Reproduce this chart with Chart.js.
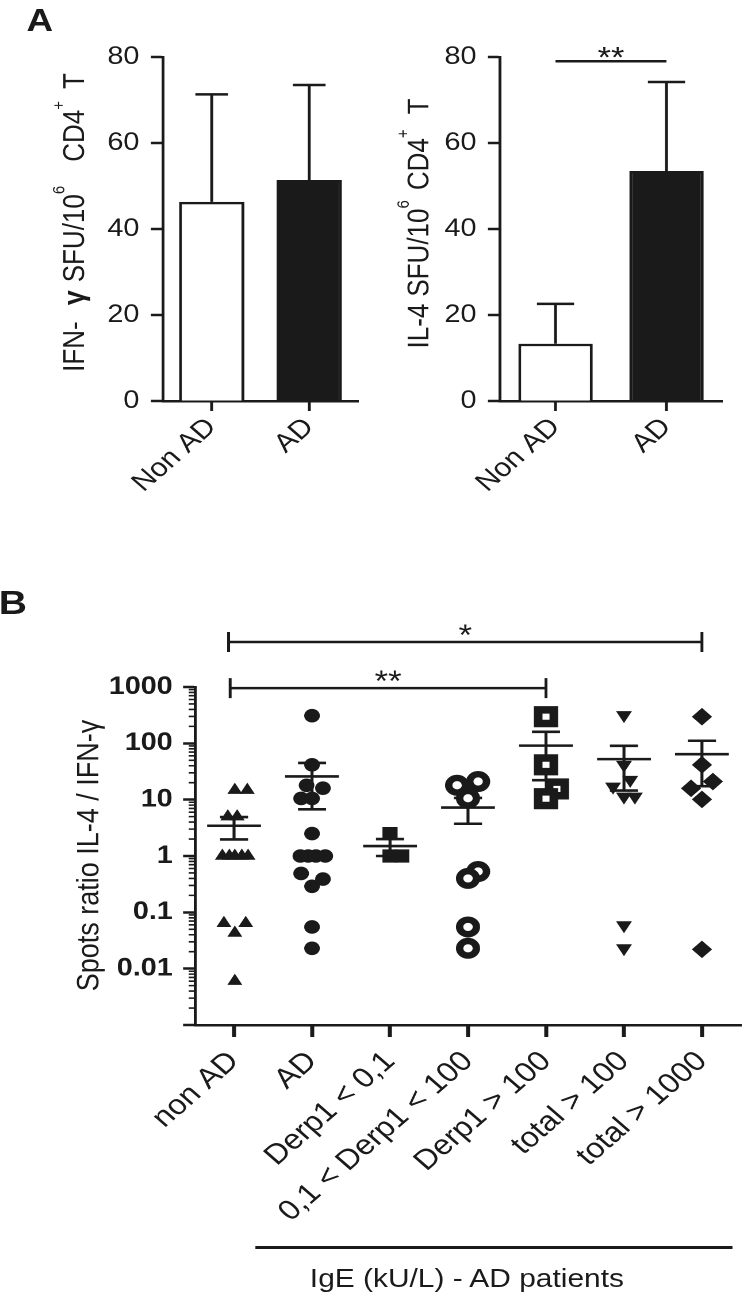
<!DOCTYPE html>
<html>
<head>
<meta charset="utf-8">
<script src="https://cdn.jsdelivr.net/npm/chart.js@4.4.0/dist/chart.umd.min.js"></script>
<style>
  body { margin: 0; background: #fff; width: 745px; height: 1295px; overflow: hidden; }
  /* the original figure is a little wider than tall, so the whole thing is stretched */
  #fig { position: absolute; left: 0; top: 0; width: 648px; height: 1295px; transform: scaleX(1.15); transform-origin: 0 0; font-family: "Liberation Sans", Arial, sans-serif; color: #1a1a1a; }
  #fig canvas { position: absolute; }
  .panel { position: absolute; font-weight: bold; line-height: 1; }
  #igeLine { position: absolute; left: 222px; top: 1246px; width: 415px; height: 2.5px; background: #1a1a1a; }
  #igeText { position: absolute; left: 206px; top: 1265px; width: 400px; text-align: center; font-size: 26px; line-height: 26px; }
</style>
</head>
<body>
<div id="fig">
  <div class="panel" style="left:23px;top:4px;font-size:32px">A</div>
  <div class="panel" style="left:-1px;top:585px;font-size:34px">B</div>
  <canvas id="ifnChart" width="330" height="560" style="left:0;top:0"></canvas>
  <canvas id="il4Chart" width="318" height="560" style="left:330px;top:0"></canvas>
  <canvas id="ratioChart" width="648" height="695" style="left:0;top:600px"></canvas>
  <div id="igeLine"></div>
  <div id="igeText">IgE (kU/L) - AD patients</div>
</div>
<script>
// ---- panel A data ----
const groupsA = ['Non AD', 'AD'];
const ifnMean = [46.3, 51.4];
const ifnErr = [25.0, 22.1];
const il4Mean = [13.3, 53.5];
const il4Err = [9.3, 20.7];
const ticksA = [0, 20, 40, 60, 80];
const il4SigLevel = 79;

// ---- panel B data (spots ratio IL-4 / IFN-g) ----
const groupsB = ['non AD', 'AD', 'Derp1 < 0,1', '0,1 < Derp1 < 100', 'Derp1 > 100', 'total > 100', 'total > 1000'];
const ratioNonAD = [14.8, 14.8, 5.0, 5.0, 1, 1, 1, 1, 1, 0.064, 0.064, 0.043, 0.006];
const ratioAD = [309, 41.5, 18, 16, 10.5, 10.5, 2.5, 1, 1, 1, 1, 0.49, 0.39, 0.29, 0.055, 0.023];
const ratioDerpLow = [2.5, 1, 1];
const ratioDerpMid = [21, 18, 10.6, 0.53, 0.40, 0.055, 0.023];
const ratioDerpHigh = [297, 41.5, 15.5, 10.4];
const ratioTotal100 = [316, 41.5, 22.4, 17, 11.3, 11.3, 0.059, 0.023];
const ratioTotal1000 = [297, 41.5, 21, 15.9, 10.1, 0.022];
const logTicks = [0.001, 0.01, 0.1, 1, 10, 100, 1000];
const logTickLabels = ['', '0.01', '0.1', '1', '10', '100', '1000'];

// horizontal spread of overlapping points (in category widths)
const jitterNonAD = [0.01, 0.17, -0.08, 0.04, -0.15, -0.06, 0.01, 0.10, 0.18, -0.13, 0.15, 0.01, 0.01];
const jitterAD = [0, 0, -0.07, 0.14, -0.14, 0, 0, -0.15, -0.05, 0.05, 0.17, -0.14, 0.14, 0, 0, 0];
const jitterDerpLow = [0, 0, 0.15];
const jitterDerpMid = [0.13, -0.14, 0, 0.13, 0, 0, 0];
const jitterDerpHigh = [0, 0, 0.14, 0];
const jitterTotal100 = [0, 0, 0.08, -0.14, 0, 0.14, 0, 0];
const jitterTotal1000 = [0, 0, 0.14, -0.14, 0, 0];

// significance brackets
const bracketFrom = [-0.07, -0.05];
const bracketTo = [6, 4];
const bracketLevel = [6300, 956];
const bracketLabel = ['*', '**'];

const INK = '#1a1a1a';
const FONT = '"Liberation Sans", Arial, Helvetica, sans-serif';
Chart.defaults.font.family = FONT;
Chart.defaults.color = INK;

function font(size, bold) { return (bold ? 'bold ' : '') + size + 'px ' + FONT; }

// vertical axis title made of pieces (superscripts, bold gamma)
function titlePlugin(segs, cx, cy, size) {
  return {
    id: 'richTitle',
    afterDraw(chart) {
      const ctx = chart.ctx;
      ctx.save();
      ctx.translate(cx, cy);
      ctx.rotate(-Math.PI / 2);
      ctx.fillStyle = INK;
      ctx.textBaseline = 'alphabetic';
      let total = 0;
      segs.forEach(s => {
        ctx.font = font(s.f, s.bold);
        s.w = ctx.measureText(s.t).width;
        total += s.w + (s.gap || 0);
      });
      let x = -total / 2;
      const base = size * 0.716 / 2;
      segs.forEach(s => {
        ctx.font = font(s.f, s.bold);
        ctx.fillText(s.t, x, base - (s.up || 0));
        x += s.w + (s.gap || 0);
      });
      ctx.restore();
    }
  };
}

function errorBarPlugin(errs) {
  return {
    id: 'errorBars',
    afterDatasetsDraw(chart) {
      const ctx = chart.ctx, y = chart.scales.y;
      const values = chart.data.datasets[0].data;
      ctx.save();
      ctx.strokeStyle = INK;
      ctx.lineWidth = 2.5;
      chart.getDatasetMeta(0).data.forEach((bar, i) => {
        const top = y.getPixelForValue(values[i] + errs[i]);
        const half = bar.width * 0.25;
        ctx.beginPath();
        ctx.moveTo(bar.x, bar.y);
        ctx.lineTo(bar.x, top);
        ctx.moveTo(bar.x - half, top);
        ctx.lineTo(bar.x + half, top);
        ctx.stroke();
      });
      ctx.restore();
    }
  };
}

const il4SigPlugin = {
  id: 'sig',
  afterDraw(chart) {
    const ctx = chart.ctx, x = chart.scales.x, y = chart.scales.y;
    const x0 = x.getPixelForValue(0), x1 = x.getPixelForValue(1), py = y.getPixelForValue(il4SigLevel);
    ctx.save();
    ctx.strokeStyle = INK;
    ctx.lineWidth = 2.5;
    ctx.beginPath();
    ctx.moveTo(x0, py);
    ctx.lineTo(x1, py);
    ctx.stroke();
    ctx.fillStyle = INK;
    ctx.font = font(30);
    ctx.textAlign = 'center';
    ctx.fillText('**', (x0 + x1) / 2, py + 6);
    ctx.restore();
  }
};

function barChart(id, means, errs, yWidth, padRight, plugins) {
  return new Chart(document.getElementById(id), {
    type: 'bar',
    data: {
      labels: groupsA,
      datasets: [{
        data: means,
        backgroundColor: ['#ffffff', INK],
        borderColor: INK,
        borderWidth: 2.5,
        barPercentage: 0.67,
        categoryPercentage: 1
      }]
    },
    options: {
      responsive: false,
      devicePixelRatio: 2,
      animation: false,
      layout: { autoPadding: false, padding: { left: 0, right: padRight, top: 57, bottom: 0 } },
      plugins: { legend: { display: false }, tooltip: { enabled: false } },
      scales: {
        x: {
          offset: true,
          grid: { offset: false, drawOnChartArea: false, tickLength: 10, tickWidth: 2.5, color: INK },
          border: { color: INK, width: 2.5 },
          ticks: { font: { size: 26 }, color: INK, minRotation: 45, maxRotation: 45, padding: 1 },
          afterFit: s => { s.height = 159; }
        },
        y: {
          min: 0,
          max: 80,
          afterBuildTicks: s => { s.ticks = ticksA.map(v => ({ value: v })); },
          ticks: { font: { size: 25 }, color: INK, padding: 10 },
          grid: { drawOnChartArea: false, tickLength: 10.5, tickWidth: 2.5, color: INK },
          border: { color: INK, width: 2.5 },
          afterFit: s => { s.width = yWidth; }
        }
      }
    },
    plugins: [errorBarPlugin(errs)].concat(plugins)
  });
}

barChart('ifnChart', ifnMean, ifnErr, 141.7, 18.7, [titlePlugin([
  { t: 'IFN-', f: 26, gap: 16 },
  { t: 'γ', f: 27, bold: true, gap: 8 },
  { t: 'SFU/10', f: 26 },
  { t: '6', f: 15, up: 17, gap: 24 },
  { t: 'CD4', f: 26 },
  { t: '+', f: 15, up: 17, gap: 12 },
  { t: 'T', f: 26 }
], 63.5, 222.5, 26)]);

barChart('il4Chart', il4Mean, il4Err, 104.8, 20.2, [il4SigPlugin, titlePlugin([
  { t: 'IL-4', f: 26, gap: 7 },
  { t: 'SFU/10', f: 26 },
  { t: '6', f: 15, up: 17, gap: 10 },
  { t: 'CD4', f: 26 },
  { t: '+', f: 15, up: 17, gap: 15 },
  { t: 'T', f: 26 }
], 33, 223.5, 26)]);

// ---- panel B ----
const ratios = [ratioNonAD, ratioAD, ratioDerpLow, ratioDerpMid, ratioDerpHigh, ratioTotal100, ratioTotal1000];
const jitters = [jitterNonAD, jitterAD, jitterDerpLow, jitterDerpMid, jitterDerpHigh, jitterTotal100, jitterTotal1000];
const markers = [
  { style: 'triangle', r: 7.5, fill: INK, bw: 0 },
  { style: 'circle', r: 6.8, fill: INK, bw: 0 },
  { style: 'rect', r: 9.3, fill: INK, bw: 0 },
  { style: 'circle', r: 7.3, fill: '#ffffff', bw: 6.4 },
  { style: 'rect', r: 9.6, fill: '#ffffff', bw: 7.5 },
  { style: 'triangle', r: 8, fill: INK, bw: 0, rot: 180 },
  { style: 'rectRot', r: 8.8, fill: INK, bw: 0 }
];

const meanSemPlugin = {
  id: 'meanSem',
  beforeDatasetsDraw(chart) {
    const ctx = chart.ctx, x = chart.scales.x, y = chart.scales.y;
    ctx.save();
    ctx.strokeStyle = INK;
    ctx.lineWidth = 2.6;
    ratios.forEach((vals, g) => {
      const n = vals.length;
      const mean = vals.reduce((a, b) => a + b, 0) / n;
      const sd = Math.sqrt(vals.reduce((a, b) => a + (b - mean) * (b - mean), 0) / (n - 1));
      const sem = sd / Math.sqrt(n);
      const xc = x.getPixelForValue(g);
      const wMean = x.getPixelForValue(g + 0.345) - xc;
      const wCap = x.getPixelForValue(g + 0.18) - xc;
      const ym = y.getPixelForValue(mean);
      const yt = y.getPixelForValue(mean + sem);
      const yb = y.getPixelForValue(Math.max(mean - sem, 0.001));
      ctx.beginPath();
      ctx.moveTo(xc - wMean, ym); ctx.lineTo(xc + wMean, ym);
      ctx.moveTo(xc, yt); ctx.lineTo(xc, yb);
      ctx.moveTo(xc - wCap, yt); ctx.lineTo(xc + wCap, yt);
      ctx.moveTo(xc - wCap, yb); ctx.lineTo(xc + wCap, yb);
      ctx.stroke();
    });
    ctx.restore();
  },
  afterDraw(chart) {
    const ctx = chart.ctx, x = chart.scales.x, y = chart.scales.y;
    const left = chart.chartArea.left;
    ctx.save();
    ctx.strokeStyle = INK;
    // minor log ticks
    ctx.lineWidth = 1.6;
    ctx.beginPath();
    for (let k = -3; k < 3; k++) {
      for (let m = 2; m <= 9; m++) {
        const py = y.getPixelForValue(m * Math.pow(10, k));
        ctx.moveTo(left - 5.5, py);
        ctx.lineTo(left, py);
      }
    }
    ctx.stroke();
    // brackets
    ctx.lineWidth = 2.5;
    ctx.fillStyle = INK;
    ctx.font = font(30);
    ctx.textAlign = 'center';
    bracketLevel.forEach((lvl, i) => {
      const x0 = x.getPixelForValue(bracketFrom[i]), x1 = x.getPixelForValue(bracketTo[i]);
      const py = y.getPixelForValue(lvl);
      ctx.beginPath();
      ctx.moveTo(x0, py); ctx.lineTo(x1, py);
      ctx.moveTo(x0, py - 10); ctx.lineTo(x0, py + 10);
      ctx.moveTo(x1, py - 10); ctx.lineTo(x1, py + 10);
      ctx.stroke();
      ctx.fillText(bracketLabel[i], (x0 + x1) / 2, py + 3);
    });
    ctx.restore();
  }
};

new Chart(document.getElementById('ratioChart'), {
  type: 'scatter',
  data: {
    datasets: ratios.map((vals, g) => ({
      data: vals.map((v, j) => ({ x: g + jitters[g][j], y: v })),
      pointStyle: markers[g].style,
      pointRadius: markers[g].r,
      pointRotation: markers[g].rot || 0,
      pointBackgroundColor: markers[g].fill,
      pointBorderColor: INK,
      pointBorderWidth: markers[g].bw,
      showLine: false
    }))
  },
  options: {
    responsive: false,
    devicePixelRatio: 2,
    animation: false,
    layout: { autoPadding: false, padding: { left: 0, right: 3.7, top: 87, bottom: 0 } },
    plugins: { legend: { display: false }, tooltip: { enabled: false } },
    scales: {
      x: {
        type: 'linear',
        min: -0.5,
        max: 6.5,
        afterBuildTicks: s => { s.ticks = groupsB.map((_, i) => ({ value: i })); },
        ticks: { callback: v => groupsB[v], font: { size: 28 }, color: INK, minRotation: 45, maxRotation: 45, autoSkip: false, padding: 8 },
        grid: { drawOnChartArea: false, tickLength: 12, tickWidth: 3.5, color: INK },
        border: { color: INK, width: 2.5 },
        afterFit: s => { s.height = 270; }
      },
      y: {
        type: 'logarithmic',
        min: 0.001,
        max: 1000,
        afterBuildTicks: s => { s.ticks = logTicks.map(v => ({ value: v })); },
        ticks: { callback: (v, i) => logTickLabels[i], font: { size: 25, weight: 'bold' }, color: INK, padding: 9, autoSkip: false },
        grid: { drawOnChartArea: false, tickLength: 10.4, tickWidth: 2.5, color: INK },
        border: { color: INK, width: 2.5 },
        afterFit: s => { s.width = 169.6; }
      }
    }
  },
  plugins: [meanSemPlugin, titlePlugin([{ t: 'Spots ratio IL-4 / IFN-γ', f: 27 }], 76, 255.5, 27)]
});
</script>
</body>
</html>
